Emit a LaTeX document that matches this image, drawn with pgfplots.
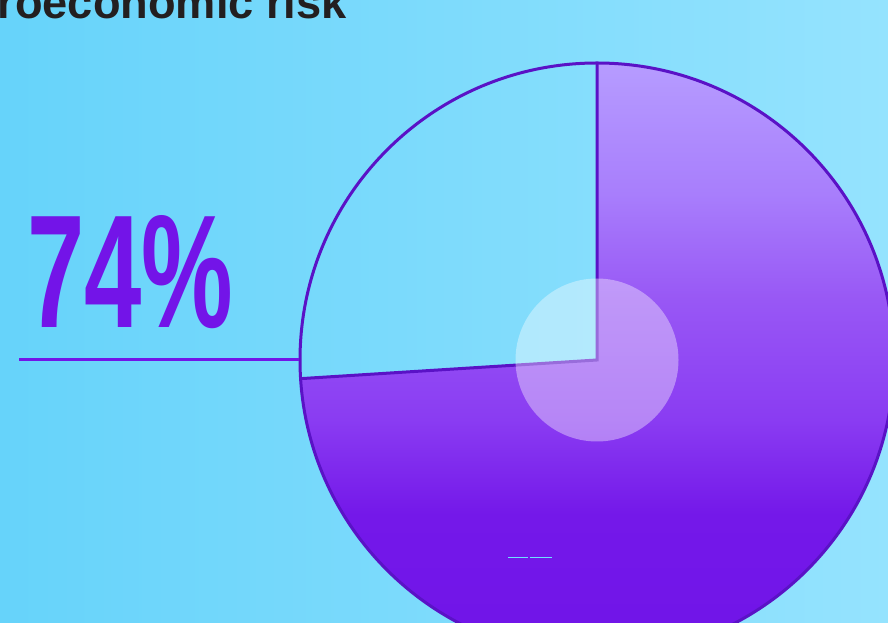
\documentclass[border=0pt]{standalone}
\usepackage{pgfplots}
\pgfplotsset{compat=1.18}
\usepackage{graphicx}
\usepackage{fontspec}
\setmainfont{Liberation Sans}
\definecolor{bgleft}{HTML}{66D3FA}
\definecolor{bgright}{HTML}{95E3FE}
\definecolor{rim}{HTML}{5A12C6}
\definecolor{bignum}{HTML}{7314E8}
\definecolor{titleink}{HTML}{231F20}
\definecolor{tick}{HTML}{6EE0FF}

% vertical gradient of the slice (25bp = bottom of circle, 75bp = top)
\pgfdeclareverticalshading{slice}{100bp}{%
  color(0bp)=(rgb,255:red,112;green,20;blue,232);
  color(25bp)=(rgb,255:red,112;green,20;blue,232);
  color(37bp)=(rgb,255:red,116;green,24;blue,233);
  color(45bp)=(rgb,255:red,138;green,60;blue,242);
  color(55bp)=(rgb,255:red,152;green,87;blue,245);
  color(64bp)=(rgb,255:red,168;green,126;blue,252);
  color(75bp)=(rgb,255:red,182;green,156;blue,255);
  color(100bp)=(rgb,255:red,182;green,156;blue,255)}

% share of the slice (percent), pie centre and radius in pixels
\def\share{74}
\def\cx{597}
\def\cy{263}
\def\rad{297}

\begin{document}
\begin{tikzpicture}
\path[use as bounding box] (0,0) rectangle (888bp,623bp);
\clip (0,0) rectangle (888bp,623bp);
\begin{axis}[
  at={(0,0)}, anchor=south west,
  width=888bp, height=623bp, scale only axis,
  xmin=0, xmax=888, ymin=0, ymax=623,
  hide axis,
]
% background
\fill[left color=bgleft, right color=bgright] (axis cs:0,0) rectangle (axis cs:888,623);
\pgfmathsetmacro{\endang}{90-3.6*\share}
% filled slice
\path[shading=slice]
  (axis cs:\cx,\cy) -- (axis cs:\cx,\cy+\rad)
  arc[start angle=90, end angle=\endang, radius=\rad bp] -- cycle;
% outline
\draw[rim, line width=3bp] (axis cs:\cx,\cy) circle[radius=\rad bp];
\draw[rim, line width=3bp, line join=miter]
  (axis cs:\cx,\cy+\rad) -- (axis cs:\cx,\cy) -- ++(\endang:\rad bp);
% inner disc
\fill[white, opacity=0.38] (axis cs:\cx,\cy) circle[radius=81.5bp];
% leader line
\draw[bignum, line width=3bp] (axis cs:19,263) -- (axis cs:299,263);
% big number
\node[anchor=base west, inner sep=0pt, text=bignum] at (axis cs:27,295)
  {\scalebox{0.64}[1]{\fontsize{161bp}{161bp}\selectfont\bfseries 74\%}};
% title
\node[anchor=base east, inner sep=0pt, text=titleink] at (axis cs:347,604.5)
  {\fontsize{45.2bp}{45.2bp}\selectfont\bfseries Macroeconomic risk};
% small marks
\draw[tick, line width=1bp] (axis cs:508,65.5) -- (axis cs:528,65.5);
\draw[tick, line width=1bp] (axis cs:529.5,65.5) -- (axis cs:552,65.5);
\end{axis}
\end{tikzpicture}
\end{document}
